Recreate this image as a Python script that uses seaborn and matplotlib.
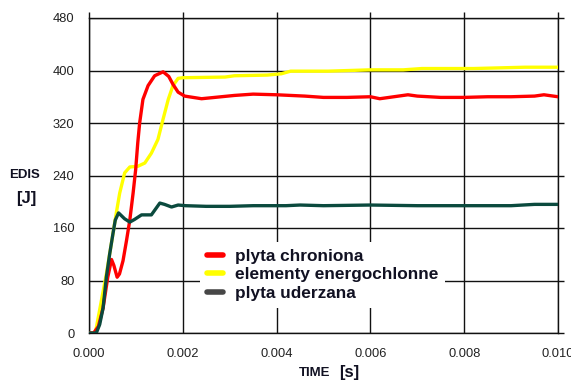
import numpy as np
import pandas as pd
import matplotlib
matplotlib.use("Agg")
import matplotlib.pyplot as plt
from matplotlib.lines import Line2D
from matplotlib.ticker import FormatStrFormatter, MultipleLocator
import seaborn as sns

# Dissipated energy [J] over time [s] for the three components
t_chroniona = [0.0, 0.0001, 0.0002, 0.0003, 0.0004, 0.00048, 0.00053, 0.0006, 0.00065,
               0.000725, 0.0008, 0.00087, 0.00094, 0.000995, 0.00104, 0.00108, 0.00115,
               0.00126, 0.0014, 0.00158, 0.0017, 0.00179, 0.0019, 0.00204, 0.0024, 0.0031,
               0.0035, 0.004, 0.0046, 0.005, 0.0055, 0.006, 0.0062, 0.0065, 0.0068, 0.007,
               0.0075, 0.008, 0.0085, 0.009, 0.0095, 0.0097, 0.01]
e_chroniona = [0, 0, 10, 38, 85, 112, 103, 85, 90, 110, 141, 172, 213, 249, 290, 320, 356,
               377, 392, 398, 391, 379, 367, 361, 357, 362, 364, 363, 361, 359, 359, 360,
               357, 360, 363, 361, 359, 359, 360, 360, 361, 363, 360]

t_energochlonne = [0.0, 0.00012, 0.000156, 0.000263, 0.00037, 0.000476, 0.00058, 0.000654,
                   0.00076, 0.00087, 0.00104, 0.00119, 0.00133, 0.00147, 0.00158, 0.00169,
                   0.00179, 0.0019, 0.002, 0.0029, 0.0031, 0.0038, 0.0041, 0.0043, 0.0051,
                   0.006, 0.0067, 0.0071, 0.008, 0.0082, 0.0093, 0.01]
e_energochlonne = [0, 0, 8, 49, 90, 136, 182, 213, 244, 253, 254, 259, 274, 295, 326, 356,
                   377, 388, 389, 390, 392, 393, 395, 399, 399, 401, 401, 403, 403, 403,
                   405, 405]

t_uderzana = [0.0, 0.000156, 0.000228, 0.0003, 0.00037, 0.00044, 0.00051, 0.00056, 0.00063,
              0.00076, 0.00087, 0.00097, 0.00112, 0.00133, 0.0014, 0.00151, 0.00161,
              0.00176, 0.0019, 0.00206, 0.0025, 0.003, 0.0035, 0.0042, 0.0045, 0.005,
              0.006, 0.007, 0.008, 0.009, 0.0095, 0.01]
e_uderzana = [0, 0, 13, 38, 85, 120, 151, 172, 183, 174, 169, 173, 180, 180, 187, 198, 196,
              192, 195, 194, 193, 193, 194, 194, 195, 194, 195, 194, 194, 194, 196, 196]

series_names = ["plyta chroniona", "elementy energochlonne", "plyta uderzana"]
series_colors = ["#ff0000", "#ffff00", "#0b4a3e"]
legend_colors = ["#ff0000", "#ffff00", "#474747"]

df = pd.concat([
    pd.DataFrame({"TIME": t_energochlonne, "EDIS": e_energochlonne, "seria": series_names[1]}),
    pd.DataFrame({"TIME": t_chroniona, "EDIS": e_chroniona, "seria": series_names[0]}),
    pd.DataFrame({"TIME": t_uderzana, "EDIS": e_uderzana, "seria": series_names[2]}),
], ignore_index=True)

sns.set_style("white")
plt.rcParams["font.family"] = ["Liberation Sans", "DejaVu Sans"]

fig = plt.figure(figsize=(5.71, 3.82), dpi=100)
ax = fig.add_axes([89 / 571, 49 / 382, 469 / 571, 315 / 382])

palette = {n: c for n, c in zip(series_names, series_colors)}
sns.lineplot(data=df, x="TIME", y="EDIS", hue="seria",
             hue_order=[series_names[1], series_names[0], series_names[2]],
             palette=palette, estimator=None, sort=False, linewidth=2.4,
             legend=False, ax=ax, zorder=3)

ax.set_xlim(0, 0.010)
ax.set_ylim(0, 480)
ax.xaxis.set_major_locator(MultipleLocator(0.002))
ax.yaxis.set_major_locator(MultipleLocator(80))
ax.xaxis.set_major_formatter(FormatStrFormatter("%.3f"))
ax.grid(True, color="#111111", linewidth=1.0, zorder=1)
ax.set_axisbelow(True)
for side in ["left", "bottom", "top", "right"]:
    ax.spines[side].set_color("#111111")
    ax.spines[side].set_linewidth(1.0)
ax.tick_params(axis="both", direction="out", length=4.5, width=1.0, color="#111111",
               labelsize=9.3, labelcolor="#222222", pad=6,
               top=True, right=True, labeltop=False, labelright=False)
ax.set_xlabel("")
ax.set_ylabel("")

# Legend built from short thick handles, drawn on an opaque white box
handles = [Line2D([], [], color=c, linewidth=4) for c in legend_colors]
leg = ax.legend(handles, series_names, loc="upper left",
                bbox_to_anchor=((200 - 89) / 469, (333 - 242) / 315),
                borderaxespad=0, frameon=True, fancybox=False, framealpha=1,
                facecolor="white", edgecolor="none", handlelength=0.9,
                handletextpad=0.7, labelspacing=0.18, borderpad=0.42,
                prop={"weight": "bold", "size": 12.4})
for txt in leg.get_texts():
    txt.set_color("#111122")
leg.set_zorder(5)

# Axis titles
fig.text(25 / 571, 1 - 175 / 382, "EDIS", ha="center", va="center",
         fontsize=9.5, fontweight="bold", color="#111122")
fig.text(26 / 571, 1 - 198 / 382, "[J]", ha="center", va="center",
         fontsize=12, fontweight="bold", color="#111122")
fig.text(315 / 571, 1 - 373 / 382, "TIME", ha="center", va="center",
         fontsize=9.5, fontweight="bold", color="#111122")
fig.text(349 / 571, 1 - 372 / 382, "[s]", ha="center", va="center",
         fontsize=12, fontweight="bold", color="#111122")

fig.savefig("out.png", dpi=100, facecolor="white")
